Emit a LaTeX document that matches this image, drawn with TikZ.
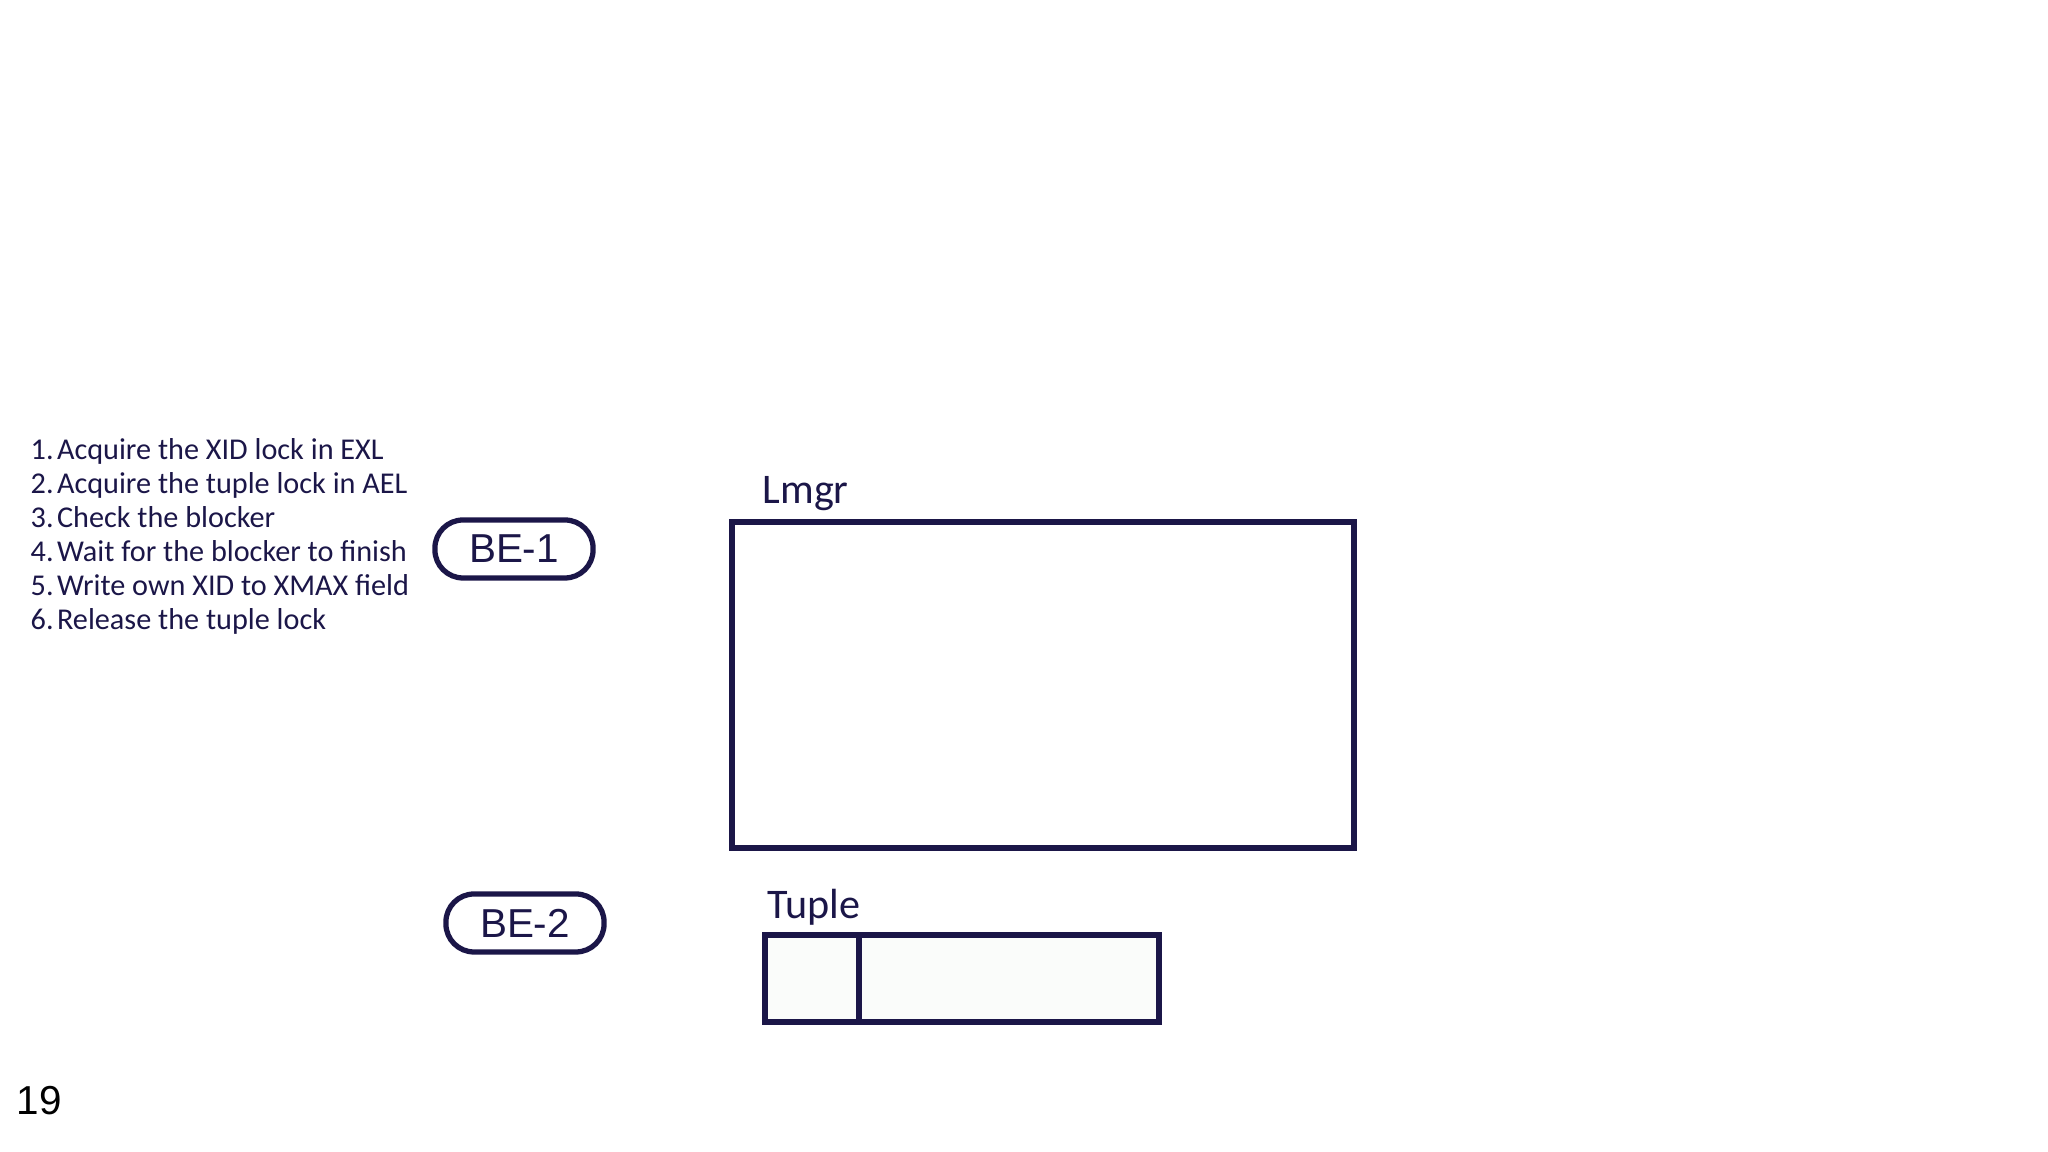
\documentclass[tikz,border=0pt]{standalone}
\usepackage{fontspec}
\setmainfont{Carlito}
\newfontfamily\arialfont{Liberation Sans}
\definecolor{ink}{RGB}{27,22,72}
\definecolor{tuplefill}{RGB}{250,252,250}
\tikzset{
	stepitem/.style={anchor=base west, inner sep=0pt, text=ink, font=\fontsize{8.6}{10}\selectfont},
	boxlabel/.style={anchor=base west, inner sep=0pt, text=ink, font=\fontsize{12}{14}\selectfont},
	backend/.style={draw=ink, line width=1.5pt, rounded corners=8pt, minimum width=45pt, minimum height=16.5pt, inner sep=0pt, text=ink, font=\arialfont\fontsize{11.5}{13}\selectfont},
}
\newcommand{\stepnum}[1]{\makebox[7.5pt][l]{#1}}
\begin{document}
\begin{tikzpicture}
	\useasboundingbox (0,0) rectangle (20.48,11.52);

	% the steps of the lock sequence
	\node[stepitem] (s1) at (0.30, 6.92) {\stepnum{1.}Acquire the XID lock in EXL};
	\node[stepitem] (s2) at (0.30, 6.92-0.34) {\stepnum{2.}Acquire the tuple lock in AEL};
	\node[stepitem] (s3) at (0.30, 6.92-2*0.34) {\stepnum{3.}Check the blocker};
	\node[stepitem] (s4) at (0.30, 6.92-3*0.34) {\stepnum{4.}Wait for the blocker to finish};
	\node[stepitem] (s5) at (0.30, 6.92-4*0.34) {\stepnum{5.}Write own XID to XMAX field};
	\node[stepitem] (s6) at (0.30, 6.92-5*0.34) {\stepnum{6.}Release the tuple lock};

	% the two backends
	\node[backend] (be1) at (5.14, 6.03) {BE-1};
	\node[backend] (be2) at (5.25, 2.29) {BE-2};

	% lock manager
	\draw[draw=ink, line width=1.5pt] (7.32, 3.04) rectangle (13.54, 6.30);
	\node[boxlabel] (lmgr) at (7.62, 6.48) {Lmgr};

	% the tuple with its header
	\draw[draw=ink, line width=1.5pt, fill=tuplefill] (7.65, 1.30) rectangle (11.59, 2.17);
	\draw[draw=ink, line width=1.5pt] (8.59, 1.30) -- (8.59, 2.17);
	\node[boxlabel] (tuple) at (7.67, 2.33) {Tuple};

	% slide number
	\node[anchor=base west, inner sep=0pt, font=\arialfont\fontsize{11.5}{14}\selectfont] (page) at (0.16, 0.37) {19};
\end{tikzpicture}
\end{document}
